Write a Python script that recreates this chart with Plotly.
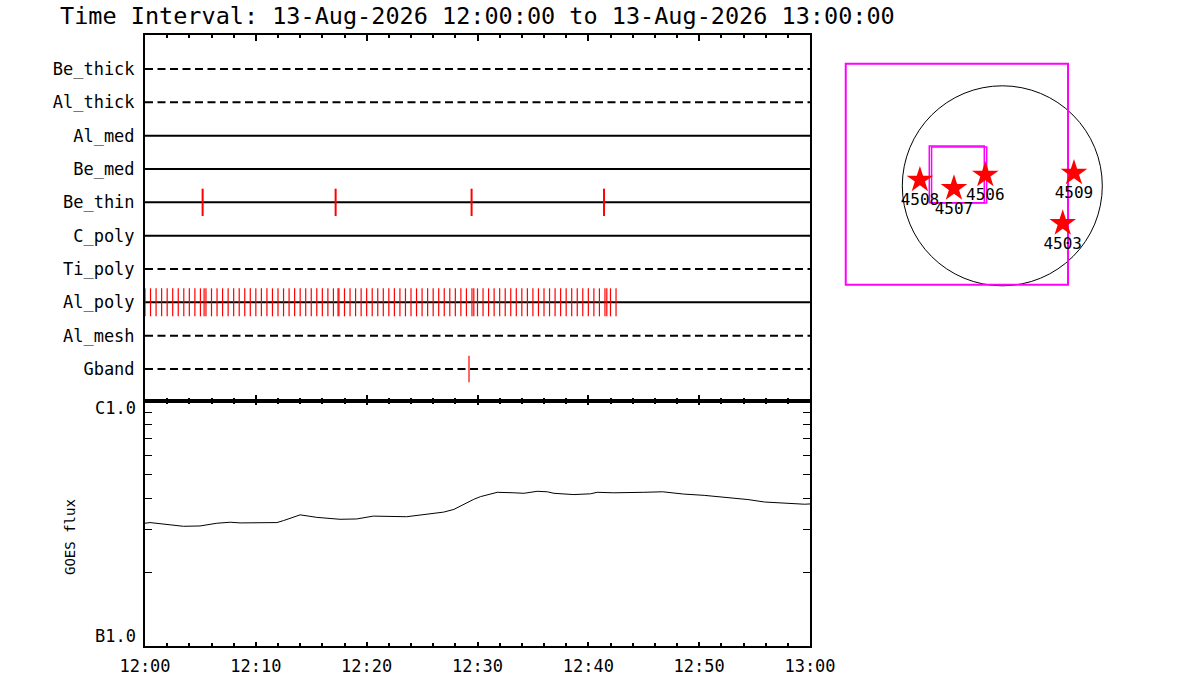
import plotly.graph_objects as go

DATE = "2026-08-13 "
T_START = "12:00:00"
T_END = "13:00:00"

# ---------------- data ----------------
rows = ["Be_thick", "Al_thick", "Al_med", "Be_med", "Be_thin",
        "C_poly", "Ti_poly", "Al_poly", "Al_mesh", "Gband"]
row_dashed = [True, True, False, False, False, False, True, False, True, True]

al_poly_times = [
    "12:00:00", "12:00:30", "12:01:00", "12:01:30", "12:02:00", "12:02:30",
    "12:03:00", "12:03:30", "12:04:00", "12:04:30", "12:05:00", "12:05:20",
    "12:05:30", "12:06:00", "12:06:30", "12:07:00", "12:07:30", "12:08:00",
    "12:08:30", "12:09:00", "12:09:30", "12:10:00", "12:10:30", "12:11:00",
    "12:11:30", "12:12:00", "12:12:30", "12:13:00", "12:13:30", "12:14:00",
    "12:14:30", "12:15:00", "12:15:30", "12:16:00", "12:16:30", "12:17:00",
    "12:17:25", "12:17:30", "12:18:00", "12:18:30", "12:19:00", "12:19:30",
    "12:20:00", "12:20:30", "12:21:00", "12:21:30", "12:22:00", "12:22:30",
    "12:23:00", "12:23:30", "12:24:00", "12:24:30", "12:25:00", "12:25:30",
    "12:26:00", "12:26:30", "12:27:00", "12:27:30", "12:28:00", "12:28:30",
    "12:29:00", "12:29:30", "12:29:40", "12:30:00", "12:30:30", "12:31:00",
    "12:31:30", "12:32:00", "12:32:30", "12:33:00", "12:33:30", "12:34:00",
    "12:34:30", "12:35:00", "12:35:30", "12:36:00", "12:36:30", "12:37:00",
    "12:37:30", "12:38:00", "12:38:30", "12:39:00", "12:39:30", "12:40:00",
    "12:40:30", "12:41:00", "12:41:30", "12:41:40", "12:42:00", "12:42:30",
]
be_thin_times = ["12:05:12", "12:17:12", "12:29:28", "12:41:25"]
gband_times = ["12:29:14"]

goes_times = [
    "12:00:00", "12:00:27", "12:03:28", "12:04:58", "12:06:29", "12:07:41",
    "12:08:35", "12:11:54", "12:12:30", "12:13:24", "12:14:00", "12:15:30",
    "12:17:36", "12:19:06", "12:20:36", "12:23:36", "12:24:33", "12:25:45",
    "12:26:57", "12:27:52", "12:28:46", "12:29:40", "12:30:16", "12:31:47",
    "12:33:17", "12:34:11", "12:35:23", "12:36:18", "12:36:54", "12:38:42",
    "12:40:12", "12:40:48", "12:42:18", "12:43:30", "12:45:00", "12:46:42",
    "12:48:36", "12:50:27", "12:52:15", "12:54:24", "12:55:54", "12:57:42",
    "12:59:30", "13:00:00",
]
goes_flux_e7 = [
    3.17, 3.19, 3.08, 3.09, 3.17, 3.20,
    3.18, 3.19, 3.25, 3.37, 3.43, 3.35,
    3.29, 3.30, 3.39, 3.37, 3.41, 3.48,
    3.52, 3.61, 3.80, 3.97, 4.07, 4.24,
    4.22, 4.20, 4.28, 4.26, 4.20, 4.15,
    4.18, 4.24, 4.22, 4.22, 4.24, 4.26,
    4.17, 4.12, 4.05, 3.96, 3.87, 3.82,
    3.79, 3.80,
]
goes_tick_vals_e7 = [1, 2, 3, 4, 5, 6, 7, 8, 9, 10]

ar_numbers = ["4508", "4507", "4506", "4509", "4503"]
ar_x = [-791, -464, -163, 688, 580]
ar_y = [56, -24, 104, 123, -360]

solar_radius = 960
fov_x = [-1503, 631]
fov_y = [-949, 1172]
sub_fov_a_x = [-701, -173]
sub_fov_a_y = [-162, 382]
sub_fov_b_x = [-679, -150]
sub_fov_b_y = [-166, 372]

# ---------------- figure ----------------
MONO = "DejaVu Sans Mono"
W, H = 1200, 700
fig = go.Figure()

n = len(rows)
row_pos = [n - i for i in range(n)]

# row baselines
for name, pos, dashed in zip(rows, row_pos, row_dashed):
    fig.add_trace(go.Scatter(
        x=[DATE + T_START, DATE + T_END], y=[pos, pos], mode="lines",
        line=dict(color="black", width=2, dash="8px,4.5px" if dashed else "solid"),
        xaxis="x", yaxis="y", hoverinfo="skip", cliponaxis=False))


def tick_trace(times, row_name, half, width):
    pos = row_pos[rows.index(row_name)]
    xs, ys = [], []
    for t in times:
        xs += [DATE + t, DATE + t, None]
        ys += [pos - half, pos + half, None]
    return go.Scatter(x=xs, y=ys, mode="lines",
                      line=dict(color="#ff0000", width=width),
                      xaxis="x", yaxis="y", hoverinfo="skip")


fig.add_trace(tick_trace(be_thin_times, "Be_thin", 0.41, 2))
fig.add_trace(tick_trace(al_poly_times, "Al_poly", 0.42, 1.2))
fig.add_trace(tick_trace(gband_times, "Gband", 0.40, 1.2))

# GOES curve
fig.add_trace(go.Scatter(
    x=[DATE + t for t in goes_times], y=[v * 1e-7 for v in goes_flux_e7],
    mode="lines", line=dict(color="black", width=1),
    xaxis="x2", yaxis="y2", hoverinfo="skip"))

# right panel: active regions
fig.add_trace(go.Scatter(
    x=ar_x, y=ar_y, mode="markers+text", text=ar_numbers,
    textposition="bottom center",
    textfont=dict(family=MONO, size=16, color="black"),
    marker=dict(symbol="star", size=20, color="#ff0000", line=dict(width=0)),
    xaxis="x3", yaxis="y3", hoverinfo="skip", cliponaxis=False))

shapes = [
    dict(type="circle", xref="x3", yref="y3",
         x0=-solar_radius, x1=solar_radius, y0=-solar_radius, y1=solar_radius,
         line=dict(color="black", width=1), layer="below"),
    dict(type="rect", xref="x3", yref="y3", x0=fov_x[0], x1=fov_x[1],
         y0=fov_y[0], y1=fov_y[1], line=dict(color="#ff00ff", width=2), layer="below"),
    dict(type="rect", xref="x3", yref="y3", x0=sub_fov_a_x[0], x1=sub_fov_a_x[1],
         y0=sub_fov_a_y[0], y1=sub_fov_a_y[1], line=dict(color="#ff00ff", width=1.5), layer="below"),
    dict(type="rect", xref="x3", yref="y3", x0=sub_fov_b_x[0], x1=sub_fov_b_x[1],
         y0=sub_fov_b_y[0], y1=sub_fov_b_y[1], line=dict(color="#ff00ff", width=1.5), layer="below"),
]


def px_x(p):
    return p / W


def px_y(p):
    return 1 - p / H


X_DOM = [px_x(145), px_x(810)]
time_range = [DATE + T_START, DATE + T_END]

common_x = dict(
    type="date", range=time_range, tick0=DATE + T_START, dtick=600000,
    showline=True, linewidth=2, linecolor="black", mirror="ticks",
    ticks="inside", tickcolor="black", tickwidth=2, showgrid=False, zeroline=False,
    automargin=False,
)

SCALE = 9.6
CX, CY = 1002.3, 185.8
RP_L, RP_R, RP_T, RP_B = 840, 1115, 50, 300

fig.update_layout(
    template="none",
    width=W, height=H, margin=dict(l=0, r=0, t=0, b=0, pad=0), autosize=False,
    paper_bgcolor="white", plot_bgcolor="white", showlegend=False,
    font=dict(family=MONO, color="black", size=17),
    xaxis=dict(common_x, domain=X_DOM, anchor="y", showticklabels=False,
               ticklen=6, minor=dict(dtick=120000, ticklen=3, ticks="inside",
                                     tickcolor="black", tickwidth=2, showgrid=False)),
    yaxis=dict(domain=[px_y(401), px_y(35)], range=[0.04, 11.02],
               tickvals=row_pos, ticktext=rows, ticks="", showgrid=False,
               zeroline=False, showline=True, linewidth=2, linecolor="black",
               mirror=True, ticklabelstandoff=5, automargin=False,
               tickfont=dict(family=MONO, size=17, color="black")),
    xaxis2=dict(common_x, domain=X_DOM, anchor="y2", matches="x",
                ticklen=4, tickformat="%H:%M", ticklabelstandoff=4,
                tickfont=dict(family=MONO, size=17, color="black"),
                minor=dict(dtick=120000, ticklen=3, ticks="inside",
                           tickcolor="black", tickwidth=2, showgrid=False)),
    yaxis2=dict(domain=[px_y(646), px_y(401)], type="log", range=[-7, -6],
                tickvals=[v * 1e-7 for v in goes_tick_vals_e7],
                ticktext=["" for _ in goes_tick_vals_e7],
                ticks="inside", ticklen=7, tickwidth=1, tickcolor="black",
                showline=True, linewidth=2, linecolor="black", mirror="ticks",
                showgrid=False, zeroline=False, automargin=False),
    xaxis3=dict(domain=[px_x(RP_L), px_x(RP_R)], anchor="y3", visible=False,
                automargin=False,
                range=[(RP_L - CX) * SCALE, (RP_R - CX) * SCALE]),
    yaxis3=dict(domain=[px_y(RP_B), px_y(RP_T)], anchor="x3", visible=False,
                automargin=False,
                range=[(CY - RP_B) * SCALE, (CY - RP_T) * SCALE]),
    shapes=shapes,
    annotations=[
        dict(text="Time Interval: 13-Aug-2026 12:00:00 to 13-Aug-2026 13:00:00",
             xref="paper", yref="paper", x=px_x(58), y=px_y(16),
             xanchor="left", yanchor="middle", showarrow=False,
             font=dict(family=MONO, size=23.5, color="black")),
        dict(text="GOES flux", xref="paper", yref="paper", x=px_x(70), y=px_y(537),
             textangle=-90, xanchor="center", yanchor="middle", showarrow=False,
             font=dict(family=MONO, size=14, color="black")),
        dict(text="C1.0", xref="paper", yref="paper", x=px_x(138), y=px_y(408),
             xanchor="right", yanchor="middle", showarrow=False,
             font=dict(family=MONO, size=17, color="black")),
        dict(text="B1.0", xref="paper", yref="paper", x=px_x(138), y=px_y(636),
             xanchor="right", yanchor="middle", showarrow=False,
             font=dict(family=MONO, size=17, color="black")),
    ],
)

fig.write_html("out.html", config={"displayModeBar": False},
               post_script="document.body.style.margin='0';")
